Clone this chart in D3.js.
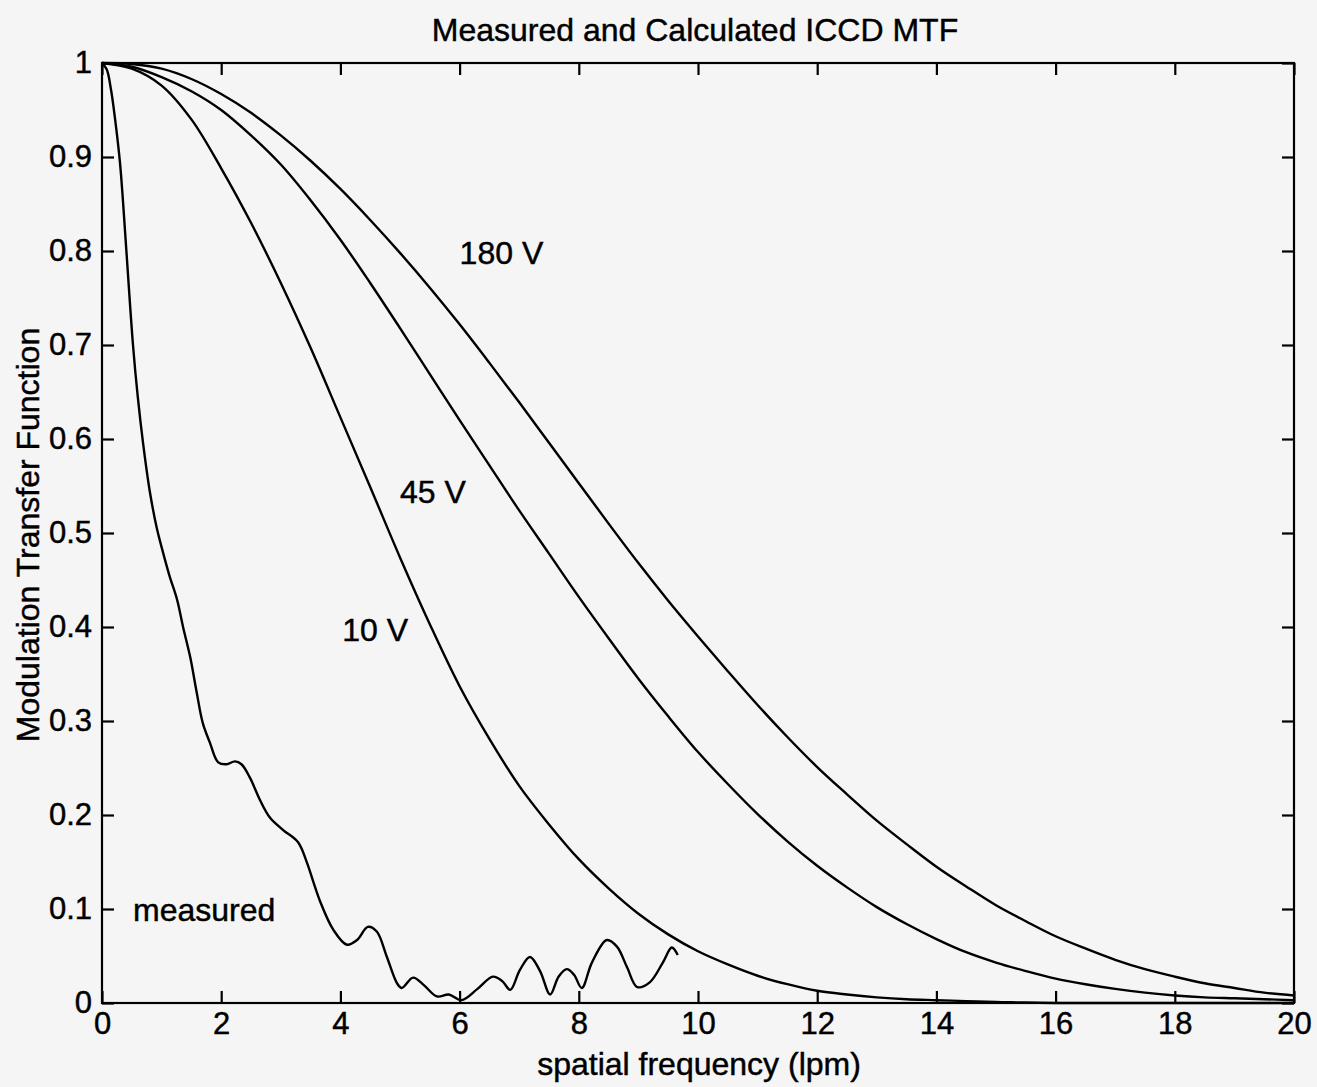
<!DOCTYPE html>
<html>
<head>
<meta charset="utf-8">
<script src="https://cdn.jsdelivr.net/npm/d3@7"></script>
<style>
  html, body { margin: 0; padding: 0; background: #f5f5f5; }
  svg { display: block; }
  text { font-family: "Liberation Sans", Arial, Helvetica, sans-serif; fill: #000; stroke: #000; stroke-width: 0.45px; }
</style>
</head>
<body>
<svg id="chart" width="1317" height="1087"></svg>
<script>
// Spatial frequency grid (lpm) shared by the calculated curves
const calcFreq = [0, 0.5, 1, 1.5, 2, 2.5, 3, 3.5, 4, 4.5, 5, 5.5, 6, 6.5, 7, 7.5, 8, 8.5, 9, 9.5,
  10, 10.5, 11, 11.5, 12, 12.5, 13, 13.5, 14, 14.5, 15, 15.5, 16, 16.5, 17, 17.5, 18, 18.5, 19, 19.5, 20];

// Calculated MTF, 180 V
const mtf180 = [1, 0.999, 0.994, 0.983, 0.967, 0.947, 0.923, 0.896, 0.866, 0.833, 0.798, 0.761, 0.722,
  0.681, 0.639, 0.596, 0.553, 0.51, 0.468, 0.428, 0.39, 0.353, 0.317, 0.283, 0.251, 0.222, 0.194,
  0.169, 0.145, 0.124, 0.104, 0.087, 0.071, 0.058, 0.046, 0.036, 0.028, 0.021, 0.016, 0.011, 0.008];

// Calculated MTF, 45 V
const mtf45 = [1, 0.996, 0.985, 0.97, 0.95, 0.923, 0.892, 0.854, 0.812, 0.766, 0.718, 0.669, 0.62,
  0.572, 0.524, 0.478, 0.432, 0.388, 0.345, 0.305, 0.267, 0.233, 0.201, 0.172, 0.146, 0.123, 0.102,
  0.084, 0.068, 0.054, 0.043, 0.034, 0.026, 0.02, 0.015, 0.011, 0.008, 0.006, 0.005, 0.004, 0.003];

// Calculated MTF, 10 V
const mtf10 = [1, 0.994, 0.976, 0.94, 0.888, 0.83, 0.766, 0.697, 0.623, 0.549, 0.474, 0.403, 0.337,
  0.281, 0.231, 0.19, 0.153, 0.122, 0.095, 0.073, 0.055, 0.041, 0.029, 0.02, 0.013, 0.009, 0.006,
  0.004, 0.003, 0.002, 0.001, 0.0005, 0, 0, 0, 0, 0, 0, 0, 0, 0];

// Measured MTF
const measFreq = [0, 0.08, 0.15, 0.22, 0.30, 0.35, 0.42, 0.52, 0.60, 0.69, 0.80, 0.92, 1.00, 1.13,
  1.26, 1.36, 1.48, 1.59, 1.69, 1.81, 1.95, 2.09, 2.23, 2.34, 2.48, 2.65, 2.82, 3.04, 3.29, 3.44,
  3.55, 3.66, 3.88, 4.11, 4.28, 4.46, 4.61, 4.78, 4.95, 5.03, 5.22, 5.40, 5.62, 5.82, 6.03, 6.30,
  6.56, 6.72, 6.85, 7.01, 7.18, 7.35, 7.52, 7.66, 7.80, 7.92, 8.05, 8.22, 8.47, 8.64, 8.81, 8.98,
  9.19, 9.41, 9.56, 9.66];
const measMtf = [1, 0.993, 0.972, 0.94, 0.895, 0.855, 0.79, 0.70, 0.645, 0.595, 0.545, 0.505, 0.485,
  0.455, 0.429, 0.40, 0.368, 0.33, 0.298, 0.277, 0.256, 0.254, 0.257, 0.254, 0.240, 0.216, 0.197,
  0.184, 0.171, 0.149, 0.128, 0.108, 0.078, 0.062, 0.067, 0.081, 0.076, 0.049, 0.021, 0.016, 0.027,
  0.019, 0.007, 0.009, 0.003, 0.015, 0.028, 0.023, 0.014, 0.035, 0.049, 0.034, 0.009, 0.028, 0.036,
  0.030, 0.016, 0.043, 0.067, 0.06, 0.038, 0.017, 0.022, 0.043, 0.059, 0.051];

// Axis ticks
const xTicks = [0, 2, 4, 6, 8, 10, 12, 14, 16, 18, 20];
const yTicks = [0, 0.1, 0.2, 0.3, 0.4, 0.5, 0.6, 0.7, 0.8, 0.9, 1];
const yTickLabels = ["0", "0.1", "0.2", "0.3", "0.4", "0.5", "0.6", "0.7", "0.8", "0.9", "1"];

// Curve annotations
const curveLabels = [
  { text: "180 V", f: 6.0, v: 0.786 },
  { text: "45 V",  f: 5.0, v: 0.532 },
  { text: "10 V",  f: 4.03, v: 0.385 },
  { text: "measured", f: 0.52, v: 0.087 }
];

const svg = d3.select("#chart");
const plotLeft = 102, plotRight = 1294, plotTop = 63, plotBottom = 1003;
const fontSize = 31;

const x = d3.scaleLinear().domain([0, 20]).range([plotLeft, plotRight]);
const y = d3.scaleLinear().domain([0, 1]).range([plotBottom, plotTop]);

// Frame
svg.append("rect")
  .attr("x", plotLeft).attr("y", plotTop)
  .attr("width", plotRight - plotLeft).attr("height", plotBottom - plotTop)
  .attr("fill", "none").attr("stroke", "#000").attr("stroke-width", 2.2);

const tickLen = 12;
function styleAxis(g) {
  g.select(".domain").remove();
  g.selectAll(".tick line").attr("stroke", "#000").attr("stroke-width", 2.2);
  g.selectAll(".tick text")
    .style("font-family", '"Liberation Sans", Arial, sans-serif')
    .style("font-size", fontSize + "px")
    .attr("fill", "#000");
}

svg.append("g").attr("transform", `translate(0,${plotBottom})`)
  .call(d3.axisBottom(x).tickValues(xTicks).tickSizeInner(-tickLen).tickSizeOuter(0)
    .tickPadding(9).tickFormat(d3.format("d")))
  .call(styleAxis);

svg.append("g").attr("transform", `translate(0,${plotTop})`)
  .call(d3.axisTop(x).tickValues(xTicks).tickSizeInner(-tickLen).tickSizeOuter(0).tickFormat(""))
  .call(styleAxis);

svg.append("g").attr("transform", `translate(${plotLeft},0)`)
  .call(d3.axisLeft(y).tickValues(yTicks).tickSizeInner(-tickLen).tickSizeOuter(0)
    .tickPadding(10).tickFormat((d, i) => yTickLabels[i]))
  .call(styleAxis);

svg.append("g").attr("transform", `translate(${plotRight},0)`)
  .call(d3.axisRight(y).tickValues(yTicks).tickSizeInner(-tickLen).tickSizeOuter(0).tickFormat(""))
  .call(styleAxis);

// Curves
const line = d3.line()
  .x(d => x(d[0]))
  .y(d => y(d[1]))
  .curve(d3.curveCatmullRom.alpha(0.5));

const series = [
  d3.zip(calcFreq, mtf180),
  d3.zip(calcFreq, mtf45),
  d3.zip(calcFreq, mtf10),
  d3.zip(measFreq, measMtf)
];

svg.append("g").selectAll("path")
  .data(series)
  .join("path")
  .attr("d", line)
  .attr("fill", "none")
  .attr("stroke", "#000")
  .attr("stroke-width", 2.4)
  .attr("stroke-linejoin", "round");

// Curve annotations
svg.append("g").selectAll("text")
  .data(curveLabels)
  .join("text")
  .attr("x", d => x(d.f))
  .attr("y", d => y(d.v))
  .style("font-size", "32px")
  .text(d => d.text);

// Titles
svg.append("text")
  .attr("x", (plotLeft + plotRight) / 2 - 3).attr("y", 41)
  .attr("text-anchor", "middle")
  .style("font-size", "32px")
  .text("Measured and Calculated ICCD MTF");

svg.append("text")
  .attr("x", (plotLeft + plotRight) / 2 + 1).attr("y", 1075)
  .attr("text-anchor", "middle")
  .style("font-size", "32px")
  .text("spatial frequency (lpm)");

svg.append("text")
  .attr("transform", `translate(39,${(plotTop + plotBottom) / 2 + 2}) rotate(-90)`)
  .attr("text-anchor", "middle")
  .style("font-size", "32px")
  .text("Modulation Transfer Function");
</script>
</body>
</html>
